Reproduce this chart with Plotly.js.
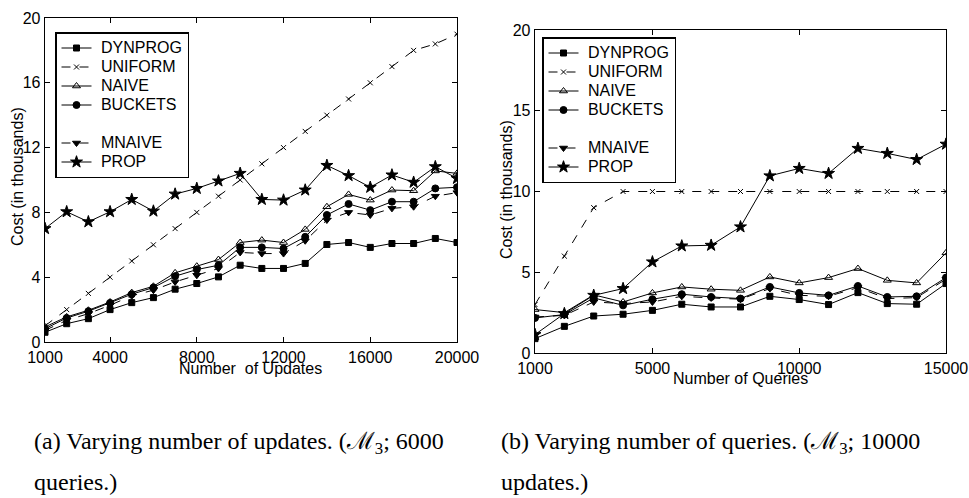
<!DOCTYPE html>
<html>
<head>
<meta charset="utf-8">
<script src="https://cdn.plot.ly/plotly-3.0.1.min.js"></script>
<style>html,body{margin:0;padding:0;background:#fff;}#chart{width:969px;height:498px;}</style>
</head>
<body>
<div id="chart"></div>
<script>
// ---------- data: (a) varying number of updates ----------
const updates = [1000,2000,3000,4000,5000,6000,7000,8000,9000,10000,11000,12000,13000,14000,15000,16000,17000,18000,19000,20000];
const a_dynprog = [0.6,1.13,1.44,2.0,2.43,2.74,3.26,3.61,4.02,4.74,4.54,4.54,4.85,6.02,6.14,5.84,6.08,6.08,6.39,6.14];
const a_uniform = [1,2,3,4,5,6,7,8,9,10,11,12,13,14,15,16,17,18,18.4,19];
const a_naive   = [0.93,1.55,1.96,2.47,3.05,3.44,4.27,4.68,5.09,6.14,6.29,6.14,6.95,8.35,9.11,8.76,9.38,9.34,10.56,10.41];
const a_buckets = [0.82,1.48,1.9,2.41,2.95,3.36,4.06,4.47,4.74,5.84,5.84,5.77,6.49,7.84,8.52,8.14,8.66,8.66,9.48,9.55];
const a_mnaive  = [0.72,1.34,1.75,2.27,2.85,3.2,3.71,4.12,4.54,5.53,5.46,5.46,6.25,7.53,8.0,7.84,8.25,8.35,9.0,9.22];
const a_prop    = [7.0,8.04,7.42,8.04,8.8,8.08,9.13,9.48,9.94,10.41,8.8,8.76,9.38,10.9,10.27,9.55,10.31,9.86,10.82,10.1];

// ---------- data: (b) varying number of queries ----------
const queries = [1000,2000,3000,4000,5000,6000,7000,8000,9000,10000,11000,12000,13000,14000,15000];
const b_dynprog = [0.89,1.65,2.29,2.4,2.64,3.02,2.85,2.85,3.51,3.31,3.0,3.74,3.06,3.02,4.3];
const b_uniform = [3.0,6.0,9.0,10,10,10,10,10,10,10,10,10,10,10,10];
const b_naive   = [2.69,2.5,3.6,3.16,3.72,4.09,3.95,3.88,4.71,4.34,4.67,5.23,4.5,4.34,6.2];
const b_buckets = [2.17,2.38,3.41,2.95,3.33,3.64,3.47,3.37,4.09,3.72,3.57,4.15,3.47,3.51,4.67];
const b_mnaive  = [2.23,2.33,3.16,3.06,3.16,3.51,3.41,3.33,3.99,3.57,3.51,4.05,3.37,3.43,4.57];
const b_prop    = [1.14,2.44,3.57,3.99,5.64,6.63,6.67,7.81,10.97,11.43,11.12,12.67,12.36,11.98,12.93];

const a_xticks = [1000,4000,8000,12000,16000,20000];
const a_yticks = [0,4,8,12,16,20];
const b_xticks = [1000,5000,10000,15000];
const b_yticks = [0,5,10,15,20];

const names = ['DYNPROG','UNIFORM','NAIVE','BUCKETS','MNAIVE','PROP'];

// ---------- styles ----------
const styles = {
  DYNPROG: {dash:'solid', symbol:'square', size:6},
  UNIFORM: {dash:'dash', symbol:'x-thin', size:5},
  NAIVE:   {dash:'solid', symbol:'triangle-up-open', size:7},
  BUCKETS: {dash:'solid', symbol:'circle', size:7},
  MNAIVE:  {dash:'dash', symbol:'triangle-down', size:7},
  PROP:    {dash:'solid', symbol:'star', size:9}
};

const LEGFONT = 16;
function label(n){
  return '<span style="font-size:'+LEGFONT+'px">\u00A0'+n+'</span>';
}

function mk(name, x, y, xa, ya, leg){
  const s = styles[name];
  return {
    type:'scatter', mode:'lines+markers', name:label(name), x:x, y:y,
    xaxis:xa, yaxis:ya, legend:leg,
    line:{color:'#000', width:1, dash:s.dash},
    marker:{symbol:s.symbol, size:s.size, color:'#000', line:{color:'#000', width:1}},
    hoverinfo:'skip'
  };
}
function blank(xa, ya, leg){
  return {type:'scatter', mode:'lines', name:'\u00A0', x:[null], y:[null], xaxis:xa, yaxis:ya, legend:leg,
    line:{color:'rgba(0,0,0,0)', width:0}, hoverinfo:'skip'};
}

const A = [a_dynprog,a_uniform,a_naive,a_buckets,a_mnaive,a_prop];
const B = [b_dynprog,b_uniform,b_naive,b_buckets,b_mnaive,b_prop];
const traces = [];
names.forEach((n,i)=>{
  if(i===4) traces.push(blank('x','y','legend'));
  traces.push(mk(n, updates, A[i], 'x','y','legend'));
});
names.forEach((n,i)=>{
  if(i===4) traces.push(blank('x2','y2','legend2'));
  traces.push(mk(n, queries, B[i], 'x2','y2','legend2'));
});

const W=969, H=498;
const sans = 'Liberation Sans, Arial, sans-serif';
const serif = 'Liberation Serif, DejaVu Serif, serif';
function axis(dom, range, ticks, anchor){
  return {domain:dom, range:range, tickvals:ticks, ticktext:ticks.map(String), anchor:anchor,
    showline:true, linecolor:'#000', linewidth:1.3, mirror:'ticks', ticks:'inside', ticklen:5,
    tickcolor:'#000', tickwidth:1, showgrid:false, zeroline:false,
    tickfont:{family:sans, size:16, color:'#000'}};
}
const px=v=>v/W, py=v=>(H-v)/H;

const legendBase = {xanchor:'left', yanchor:'top', bgcolor:'#fff', bordercolor:'#000', borderwidth:1.5,
    font:{family:sans, size:12.3, color:'#000'}, traceorder:'normal', tracegroupgap:0};

const layout = {
  width:W, height:H, autosize:false,
  margin:{l:0,r:0,t:0,b:0},
  paper_bgcolor:'#fff', plot_bgcolor:'#fff',
  showlegend:true,
  xaxis: axis([px(45),px(457)],[1000,20000],a_xticks,'y'),
  yaxis: axis([py(342),py(18)],[0,20],a_yticks,'x'),
  xaxis2: axis([px(535),px(946)],[1000,15000],b_xticks,'y2'),
  yaxis2: axis([py(353),py(30)],[0,20],b_yticks,'x2'),
  legend: Object.assign({x:px(55), y:py(32)}, legendBase),
  legend2: Object.assign({x:px(542), y:py(37)}, legendBase),
  annotations:[
    {text:'Number  of Updates', xref:'paper', yref:'paper', x:px(250), y:py(368), xanchor:'center', yanchor:'middle', showarrow:false, font:{family:sans,size:16,color:'#000'}},
    {text:'Number of Queries', xref:'paper', yref:'paper', x:px(740), y:py(378), xanchor:'center', yanchor:'middle', showarrow:false, font:{family:sans,size:16,color:'#000'}},
    {text:'Cost (in thousands)', xref:'paper', yref:'paper', x:px(17), y:py(177), xanchor:'center', yanchor:'middle', textangle:-90, showarrow:false, font:{family:sans,size:16,color:'#000'}},
    {text:'Cost (in thousands)', xref:'paper', yref:'paper', x:px(507), y:py(190), xanchor:'center', yanchor:'middle', textangle:-90, showarrow:false, font:{family:sans,size:16,color:'#000'}},
    {text:'(a) Varying number of updates. (\u2133<sub>3</sub>; 6000', xref:'paper', yref:'paper', x:px(32), y:py(443), xanchor:'left', yanchor:'middle', showarrow:false, font:{family:serif,size:24,color:'#000'}},
    {text:'queries.)', xref:'paper', yref:'paper', x:px(32), y:py(482), xanchor:'left', yanchor:'middle', showarrow:false, font:{family:serif,size:24,color:'#000'}},
    {text:'(b) Varying number of queries. (\u2133<sub>3</sub>; 10000', xref:'paper', yref:'paper', x:px(499), y:py(443), xanchor:'left', yanchor:'middle', showarrow:false, font:{family:serif,size:24,color:'#000'}},
    {text:'updates.)', xref:'paper', yref:'paper', x:px(499), y:py(482), xanchor:'left', yanchor:'middle', showarrow:false, font:{family:serif,size:24,color:'#000'}}
  ]
};

Plotly.newPlot('chart', traces, layout, {displayModeBar:false, staticPlot:true});
</script>
</body>
</html>
